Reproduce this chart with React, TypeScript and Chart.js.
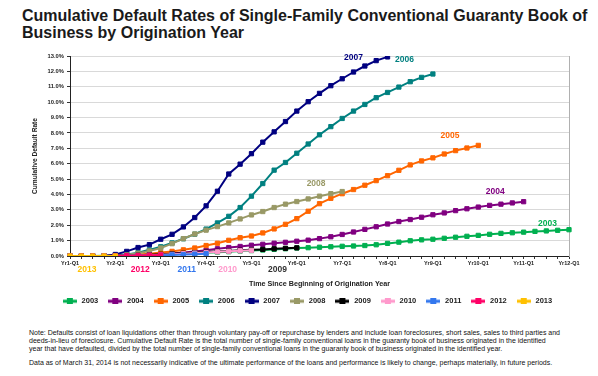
import React, { useEffect, useRef } from 'react';
import { Chart, registerables } from 'chart.js';

Chart.register(...registerables);

const FONT = '"Liberation Sans", Arial, Helvetica, sans-serif';

// ---- categories / tick labels ----
const quarterLabels = [
  'Yr1-Q1', 'Yr1-Q2', 'Yr1-Q3', 'Yr1-Q4',
  'Yr2-Q1', 'Yr2-Q2', 'Yr2-Q3', 'Yr2-Q4',
  'Yr3-Q1', 'Yr3-Q2', 'Yr3-Q3', 'Yr3-Q4',
  'Yr4-Q1', 'Yr4-Q2', 'Yr4-Q3', 'Yr4-Q4',
  'Yr5-Q1', 'Yr5-Q2', 'Yr5-Q3', 'Yr5-Q4',
  'Yr6-Q1', 'Yr6-Q2', 'Yr6-Q3', 'Yr6-Q4',
  'Yr7-Q1', 'Yr7-Q2', 'Yr7-Q3', 'Yr7-Q4',
  'Yr8-Q1', 'Yr8-Q2', 'Yr8-Q3', 'Yr8-Q4',
  'Yr9-Q1', 'Yr9-Q2', 'Yr9-Q3', 'Yr9-Q4',
  'Yr10-Q1', 'Yr10-Q2', 'Yr10-Q3', 'Yr10-Q4',
  'Yr11-Q1', 'Yr11-Q2', 'Yr11-Q3', 'Yr11-Q4',
  'Yr12-Q1',
];

const years = ['2003', '2004', '2005', '2006', '2007', '2008', '2009', '2010', '2011', '2012', '2013'];

// ---- series values (cumulative default rate, %) ----
const d2003 = [0, 0, 0, 0.01, 0.02, 0.03, 0.05, 0.07, 0.09, 0.12, 0.15, 0.18, 0.21, 0.25, 0.28, 0.32, 0.35, 0.39, 0.43, 0.47, 0.52, 0.54, 0.57, 0.6, 0.63, 0.65, 0.68, 0.73, 0.82, 0.9, 0.99, 1.05, 1.09, 1.15, 1.22, 1.28, 1.34, 1.41, 1.47, 1.51, 1.55, 1.6, 1.63, 1.67, 1.71];
const d2004 = [0, 0, 0, 0, 0.01, 0.03, 0.05, 0.08, 0.12, 0.17, 0.23, 0.3, 0.38, 0.47, 0.55, 0.62, 0.7, 0.76, 0.83, 0.89, 0.96, 1.03, 1.13, 1.25, 1.4, 1.56, 1.73, 1.9, 2.08, 2.24, 2.37, 2.52, 2.68, 2.8, 2.95, 3.07, 3.18, 3.29, 3.37, 3.45, 3.53];
const d2005 = [0, 0, 0, 0, 0.01, 0.04, 0.09, 0.15, 0.22, 0.3, 0.4, 0.52, 0.68, 0.83, 1.02, 1.19, 1.3, 1.5, 1.76, 2.06, 2.43, 2.91, 3.4, 3.75, 4.05, 4.32, 4.6, 4.9, 5.22, 5.57, 5.92, 6.18, 6.38, 6.63, 6.85, 7.02, 7.19];
const d2006 = [0, 0, 0, 0, 0.03, 0.1, 0.22, 0.4, 0.6, 0.85, 1.12, 1.42, 1.75, 2.15, 2.58, 3.15, 3.89, 4.71, 5.58, 6.08, 6.68, 7.28, 7.88, 8.41, 8.94, 9.42, 9.85, 10.29, 10.63, 10.98, 11.33, 11.61, 11.83];
const d2007 = [0, 0, 0, 0, 0.1, 0.3, 0.55, 0.74, 1.09, 1.41, 1.89, 2.5, 3.26, 4.21, 5.33, 5.97, 6.65, 7.4, 8.07, 8.74, 9.42, 10.03, 10.57, 11.07, 11.52, 11.96, 12.35, 12.7, 12.94];
const d2008 = [0, 0, 0, 0, 0.02, 0.08, 0.18, 0.33, 0.52, 0.8, 1.13, 1.43, 1.68, 1.91, 2.15, 2.41, 2.67, 2.89, 3.15, 3.37, 3.54, 3.71, 3.89, 4.05, 4.19];
const d2009 = [0, 0, 0, 0, 0.01, 0.03, 0.05, 0.08, 0.11, 0.15, 0.18, 0.22, 0.26, 0.3, 0.33, 0.37, 0.4, 0.43, 0.47, 0.5, 0.53];
const d2010 = [0, 0, 0, 0, 0, 0.01, 0.03, 0.05, 0.08, 0.11, 0.15, 0.19, 0.23, 0.27, 0.31, 0.34, 0.37];
const d2011 = [0, 0, 0, 0, 0, 0.01, 0.02, 0.03, 0.05, 0.07, 0.09, 0.12, 0.15];
const d2012 = [0, 0, 0, 0, 0.01, 0.02, 0.03, 0.05, 0.07];
const d2013 = [0, 0, 0, 0, 0];

const seriesData = [d2003, d2004, d2005, d2006, d2007, d2008, d2009, d2010, d2011, d2012, d2013];

const seriesColors = ['#00b050', '#800080', '#ff6600', '#008080', '#000080', '#999966', '#000000', '#ff99cc', '#3377ee', '#ff0066', '#ffc000'];

// in-plot year tags: year, x (quarter index), y (%)
const plotTagYears = ['2007', '2006', '2005', '2004', '2003', '2008'];
const plotTagIdx = [25, 29.5, 33.5, 37.5, 42.1, 21.7];
const plotTagVal = [12.87, 12.74, 7.79, 4.15, 2.13, 4.67];

// year tags below the axis: year, x (quarter index)
const axisTagYears = ['2013', '2012', '2011', '2010', '2009'];
const axisTagIdx = [1.5, 6.2, 10.3, 13.9, 18.3];
const axisTagColors = ['#ffc000', '#ff0066', '#3377ee', '#ff99cc', '#333333'];

function colorOf(year: string) {
  return seriesColors[years.indexOf(year)];
}

function makeLegendIcon(color: string) {
  const c = document.createElement('canvas');
  c.width = 14;
  c.height = 6;
  const g = c.getContext('2d')!;
  g.fillStyle = color;
  g.fillRect(0, 1.5, 14, 3);
  g.fillRect(4, 0, 6, 6);
  return c;
}

const tagPlugin = {
  id: 'yearTags',
  afterDraw(chart: any) {
    const { ctx, chartArea } = chart;
    const x = chart.scales.x;
    const y = chart.scales.y;
    ctx.save();
    ctx.font = `bold 8.5px ${FONT}`;
    ctx.textAlign = 'center';
    ctx.textBaseline = 'middle';
    plotTagYears.forEach((yr, i) => {
      ctx.fillStyle = colorOf(yr);
      ctx.fillText(yr, x.getPixelForValue(plotTagIdx[i]), y.getPixelForValue(plotTagVal[i]));
    });
    axisTagYears.forEach((yr, i) => {
      ctx.fillStyle = axisTagColors[i];
      ctx.fillText(yr, x.getPixelForValue(axisTagIdx[i]), chartArea.bottom + 14);
    });
    ctx.restore();
  },
};

export default function App() {
  const ref = useRef<HTMLCanvasElement | null>(null);

  useEffect(() => {
    const canvas = ref.current;
    if (!canvas) return;
    const icons = seriesColors.map((c) => makeLegendIcon(c));
    const chart = new Chart(canvas, {
      type: 'line',
      data: {
        labels: quarterLabels,
        datasets: years.map((yr, i) => ({
          label: yr,
          data: seriesData[i],
          borderColor: seriesColors[i],
          backgroundColor: seriesColors[i],
          pointBackgroundColor: seriesColors[i],
          pointBorderColor: seriesColors[i],
          pointStyle: 'rect',
          pointRadius: 3,
          pointBorderWidth: 1,
          borderWidth: 2,
          tension: 0,
          fill: false,
          order: years.length - i,
        })),
      },
      options: {
        responsive: false,
        animation: false,
        events: [],
        layout: { padding: { top: 16, left: 16, right: 0, bottom: 0 } },
        plugins: {
          tooltip: { enabled: false },
          legend: {
            position: 'bottom',
            labels: {
              usePointStyle: true,
              pointStyleWidth: 16,
              padding: 9,
              color: '#222',
              font: { family: FONT, size: 7.5, weight: 'bold' },
              generateLabels(chart: any) {
                const items = Chart.defaults.plugins.legend.labels.generateLabels(chart);
                items.sort((a: any, b: any) => a.datasetIndex - b.datasetIndex);
                return items.map((it: any) => ({ ...it, pointStyle: icons[it.datasetIndex] }));
              },
            },
          },
        },
        scales: {
          x: {
            type: 'category',
            offset: false,
            ticks: {
              autoSkip: false,
              maxRotation: 0,
              minRotation: 0,
              padding: 1,
              color: '#222',
              font: { family: FONT, size: 5.5, weight: 'bold' },
              callback: (_v: any, i: number) => (quarterLabels[i].endsWith('-Q1') ? quarterLabels[i] : ''),
            },
            grid: { drawOnChartArea: false, drawTicks: true, tickLength: 3, color: '#333', tickColor: '#333' },
            border: { color: '#222', width: 1 },
            title: {
              display: true,
              text: 'Time Since Beginning of Origination Year',
              color: '#222',
              font: { family: FONT, size: 7.2, weight: 'bold' },
              padding: { top: 0, bottom: 0 },
            },
            afterFit(s: any) {
              s.height = 32.5;
            },
          },
          y: {
            min: 0,
            max: 13,
            ticks: {
              stepSize: 1,
              padding: 3,
              color: '#222',
              font: { family: FONT, size: 5.8, weight: 'bold' },
              callback: (v: any) => Number(v).toFixed(1) + '%',
            },
            grid: { color: '#d9d9d9', lineWidth: 1, tickLength: 3, tickColor: '#333' },
            border: { color: '#222', width: 1 },
            title: {
              display: true,
              text: 'Cumulative Default Rate',
              color: '#222',
              font: { family: FONT, size: 6.6, weight: 'bold' },
              padding: { top: 14.8, bottom: 0 },
            },
            afterFit(s: any) {
              s.width = 54;
            },
          },
          y2: {
            position: 'right',
            display: true,
            grid: { drawOnChartArea: false, drawTicks: false },
            ticks: { display: false },
            border: { display: true, color: '#b0b0b0', width: 1 },
            afterFit(s: any) {
              s.width = 29;
            },
          },
        },
      } as any,
      plugins: [tagPlugin],
    });
    return () => chart.destroy();
  }, []);

  return (
    <div
      style={{
        position: 'fixed',
        left: 0,
        top: 0,
        width: 598,
        height: 376,
        background: '#fff',
        fontFamily: FONT,
        color: '#111',
        overflow: 'hidden',
      }}
    >
      <div
        style={{
          position: 'absolute',
          left: 22,
          top: 6.7,
          fontSize: 16,
          fontWeight: 'bold',
          lineHeight: '17.5px',
          whiteSpace: 'nowrap',
          color: '#1a1a1a',
        }}
      >
        Cumulative Default Rates of Single-Family Conventional Guaranty Book of
        <br />
        Business by Origination Year
      </div>
      <canvas ref={ref} width={598} height={275} style={{ position: 'absolute', left: 0, top: 40, width: 598, height: 275 }} />
      <div
        style={{
          position: 'absolute',
          left: 29,
          top: 329,
          fontSize: 7,
          lineHeight: '8px',
          whiteSpace: 'nowrap',
        }}
      >
        Note: Defaults consist of loan liquidations other than through voluntary pay-off or repurchase by lenders and include loan foreclosures, short sales, sales to third parties and
        <br />
        deeds-in-lieu of foreclosure. Cumulative Default Rate is the total number of single-family conventional loans in the guaranty book of business originated in the identified
        <br />
        year that have defaulted, divided by the total number of single-family conventional loans in the guaranty book of business originated in the identified year.
      </div>
      <div
        style={{
          position: 'absolute',
          left: 29,
          top: 359,
          fontSize: 7,
          lineHeight: '8px',
          whiteSpace: 'nowrap',
        }}
      >
        Data as of March 31, 2014 is not necessarily indicative of the ultimate performance of the loans and performance is likely to change, perhaps materially, in future periods.
      </div>
    </div>
  );
}
